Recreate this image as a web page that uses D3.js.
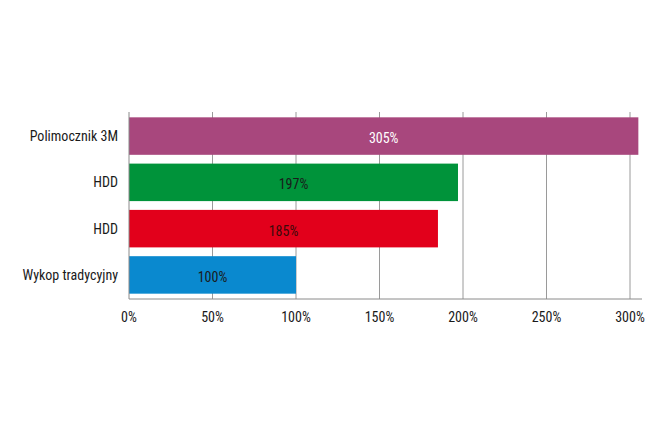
<!DOCTYPE html>
<html>
<head>
<meta charset="utf-8">
<script src="https://cdn.jsdelivr.net/npm/d3@7"></script>
<style>
  body { margin: 0; background: #fff; }
  svg text { font-family: "Liberation Sans Narrow", "Arial Narrow", "Roboto Condensed", sans-serif; font-size: 14px; fill: #1a1a1a; }
</style>
</head>
<body>
<div id="chart"></div>
<script>
const categories = ['Polimocznik 3M', 'HDD', 'HDD', 'Wykop tradycyjny'];
const values = [305, 197, 185, 100];
const colors = ['#a8477d', '#00933a', '#e2001b', '#0a89cf'];
const labelColors = ['#ffffff', '#1a1a1a', '#3a0a0a', '#1a1a1a'];
const ticks = [0, 50, 100, 150, 200, 250, 300];

const width = 670, height = 447;
const plotLeft = 129, plotRight = 642, plotTop = 112, plotBottom = 299;

const svg = d3.select('#chart').append('svg')
    .attr('width', width)
    .attr('height', height);

const x = d3.scaleLinear().domain([0, 300]).range([plotLeft, 630]);
const y = d3.scaleBand()
    .domain(d3.range(categories.length))
    .range([plotTop, plotBottom])
    .paddingInner(0.19)
    .paddingOuter(0.115);

// grid lines
svg.append('g')
    .selectAll('line')
    .data(ticks.slice(1))
    .enter()
    .append('line')
    .attr('x1', d => x(d)).attr('x2', d => x(d))
    .attr('y1', plotTop).attr('y2', plotBottom)
    .style('stroke', '#9a9a9a')
    .style('stroke-width', 1);

// bars
svg.append('g')
    .selectAll('rect')
    .data(values)
    .enter()
    .append('rect')
    .attr('x', x(0))
    .attr('y', (d, i) => y(i))
    .attr('width', d => x(d) - x(0))
    .attr('height', y.bandwidth())
    .style('fill', (d, i) => colors[i]);

// value labels
svg.append('g')
    .selectAll('text')
    .data(values)
    .enter()
    .append('text')
    .attr('x', d => (x(0) + x(d)) / 2)
    .attr('y', (d, i) => y(i) + y.bandwidth() / 2 + 7)
    .attr('text-anchor', 'middle')
    .style('fill', (d, i) => labelColors[i])
    .text(d => d + '%');

// axis lines
svg.append('line')
    .attr('x1', plotLeft).attr('x2', plotLeft)
    .attr('y1', plotTop).attr('y2', plotBottom)
    .style('stroke', '#8a8a8a');
svg.append('line')
    .attr('x1', plotLeft).attr('x2', plotRight)
    .attr('y1', plotBottom).attr('y2', plotBottom)
    .style('stroke', '#8a8a8a');

// category labels
svg.append('g')
    .selectAll('text')
    .data(categories)
    .enter()
    .append('text')
    .attr('x', 118)
    .attr('y', (d, i) => y(i) + y.bandwidth() / 2 + 5)
    .attr('text-anchor', 'end')
    .text(d => d);

// tick labels
svg.append('g')
    .selectAll('text')
    .data(ticks)
    .enter()
    .append('text')
    .attr('x', d => x(d))
    .attr('y', 322)
    .attr('text-anchor', 'middle')
    .text(d => d + '%');
</script>
</body>
</html>
